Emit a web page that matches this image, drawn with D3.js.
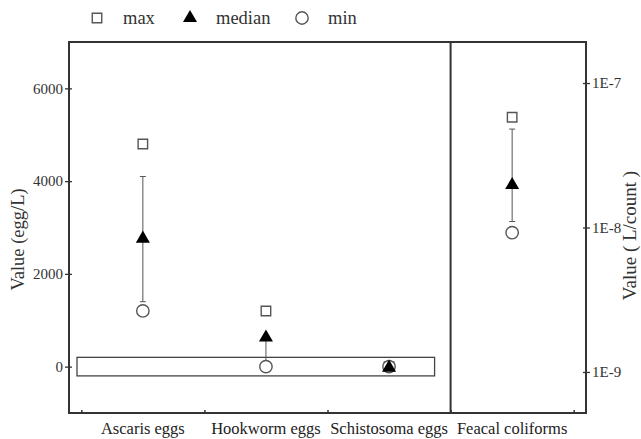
<!DOCTYPE html>
<html>
<head>
<meta charset="utf-8">
<script src="https://cdn.jsdelivr.net/npm/d3@7"></script>
<style>
  body { margin: 0; background: #fff; }
</style>
</head>
<body>
<svg id="chart" width="641" height="439"></svg>
<script>
// egg counts (left axis) and coliform values (right log axis)
const eggCategories = ["Ascaris eggs", "Hookworm eggs", "Schistosoma eggs"];
const eggMax = [4800, 1200, 0];
const eggMedian = [2780, 650, 0];
const eggMin = [1200, 0, 0];
const eggBarLow = [1400, 20, 0];
const eggBarHigh = [4100, 620, 0];

const coliCategory = "Feacal coliforms";
const coliMax = 5.8e-8;
const coliMedian = 2.0e-8;
const coliMin = 9.2e-9;
const coliBarLow = 1.1e-8;
const coliBarHigh = 4.8e-8;

const leftTicks = [0, 2000, 4000, 6000];
const rightTicks = [1e-9, 1e-8, 1e-7];
const legendLabels = ["max", "median", "min"];

const FONT = "'Liberation Serif'";
const svg = d3.select("#chart");
const margin = { top: 42, right: 55, bottom: 26, left: 69 };
const width = 641, height = 439;
const x0 = margin.left, x1 = width - margin.right;
const yTop = margin.top, yBot = height - margin.bottom;

const allCats = eggCategories.concat([coliCategory]);
const x = d3.scaleLinear().domain([0.4, 4.6]).range([x0, x1]);
const yL = d3.scaleLinear().domain([-1000, 7000]).range([yBot, yTop]);
const yR = d3.scaleLog().domain([Math.pow(10, -9.284), Math.pow(10, -6.716)]).range([yBot, yTop]);

const frameColor = "#333";
const markColor = "#555";

// highlight rectangle around zero
svg.append("rect")
  .attr("x", x(0.465)).attr("y", yL(200))
  .attr("width", x(3.37) - x(0.465)).attr("height", yL(-200) - yL(200))
  .attr("fill", "none").attr("stroke", "#444").attr("stroke-width", 1.3);

// frame
svg.append("rect")
  .attr("x", x0).attr("y", yTop).attr("width", x1 - x0).attr("height", yBot - yTop)
  .attr("fill", "none").attr("stroke", frameColor).attr("stroke-width", 2);
svg.append("line")
  .attr("x1", x(3.5)).attr("x2", x(3.5)).attr("y1", yTop).attr("y2", yBot)
  .attr("stroke", frameColor).attr("stroke-width", 2);

// left axis
const gL = svg.append("g").attr("transform", `translate(${x0},0)`)
  .call(d3.axisLeft(yL).tickValues(leftTicks).tickSize(4).tickPadding(2).tickFormat(d3.format("d")));
gL.attr("font-family", FONT);
gL.select(".domain").remove();
gL.selectAll(".tick line").attr("x2", 3).attr("x1", -4).attr("stroke", frameColor).attr("stroke-width", 1.3);
gL.selectAll(".tick text").attr("font-size", 15).attr("fill", "#333");

// right axis
const gR = svg.append("g").attr("transform", `translate(${x1},0)`)
  .call(d3.axisRight(yR).tickValues(rightTicks).tickSize(4).tickPadding(2)
    .tickFormat(d => "1E" + Math.round(Math.log10(d))));
gR.attr("font-family", FONT);
gR.select(".domain").remove();
gR.selectAll(".tick line").attr("x1", -3).attr("x2", 4).attr("stroke", frameColor).attr("stroke-width", 1.3);
gR.selectAll(".tick text").attr("font-size", 15).attr("fill", "#333");

// bottom ticks (at category boundaries)
const gB = svg.append("g").attr("transform", `translate(0,${yBot})`)
  .call(d3.axisBottom(x).tickValues([0.5, 1.5, 2.5, 3.5, 4.5]).tickSize(-3).tickFormat(""));
gB.select(".domain").remove();
gB.selectAll(".tick line").attr("stroke", frameColor).attr("stroke-width", 1.5);

// category labels
svg.append("g").attr("font-family", FONT).selectAll("text")
  .data(allCats).join("text")
  .attr("x", (d, i) => x(i + 1)).attr("y", yBot + 21)
  .attr("text-anchor", "middle").attr("font-size", 16.5).attr("fill", "#222")
  .text(d => d);

// axis titles
svg.append("text")
  .attr("transform", `translate(24,${(yTop + yBot) / 2 + 12}) rotate(-90)`)
  .attr("text-anchor", "middle").attr("font-size", 18.5).attr("fill", "#333")
  .attr("font-family", FONT)
  .text("Value (egg/L)");
svg.append("text")
  .attr("transform", `translate(636,${(yTop + yBot) / 2 + 8}) rotate(-90)`)
  .attr("text-anchor", "middle").attr("font-size", 19).attr("fill", "#333")
  .attr("font-family", FONT)
  .text("Value ( L/count )");

// markers
const sq = d3.symbol().type(d3.symbolSquare).size(90);
const tri = d3.symbol().type(d3.symbolTriangle).size(85);
const circ = d3.symbol().type(d3.symbolCircle).size(120);

function drawGroup(cx, yMax, yMed, yMin, yLo, yHi) {
  const g = svg.append("g");
  if (Math.abs(yHi - yLo) > 2) {
    g.append("line").attr("x1", cx).attr("x2", cx).attr("y1", yLo).attr("y2", yHi)
      .attr("stroke", markColor).attr("stroke-width", 1);
    [yLo, yHi].forEach(v => g.append("line").attr("x1", cx - 3).attr("x2", cx + 3)
      .attr("y1", v).attr("y2", v).attr("stroke", markColor).attr("stroke-width", 1));
  }
  g.append("path").attr("d", sq).attr("transform", `translate(${cx},${yMax})`)
    .attr("fill", "none").attr("stroke", markColor).attr("stroke-width", 1.4);
  g.append("path").attr("d", circ).attr("transform", `translate(${cx},${yMin})`)
    .attr("fill", "#fff").attr("stroke", markColor).attr("stroke-width", 1.4);
  g.append("path").attr("d", tri).attr("transform", `translate(${cx},${yMed + 1})`)
    .attr("fill", "#000");
}

eggCategories.forEach((c, i) => {
  drawGroup(x(i + 1), yL(eggMax[i]), yL(eggMedian[i]), yL(eggMin[i]), yL(eggBarLow[i]), yL(eggBarHigh[i]));
});
drawGroup(x(4), yR(coliMax), yR(coliMedian), yR(coliMin), yR(coliBarLow), yR(coliBarHigh));

// legend
const legend = svg.append("g").attr("transform", "translate(0,18)");
const legX = [97, 190, 302];
const legSym = [sq, tri, circ];
legendLabels.forEach((lab, i) => {
  const p = legend.append("path").attr("d", legSym[i]).attr("transform", `translate(${legX[i]},0)`);
  if (i === 1) p.attr("fill", "#000");
  else p.attr("fill", "none").attr("stroke", markColor).attr("stroke-width", 1.4);
  legend.append("text").attr("x", legX[i] + 26).attr("y", 6)
    .attr("font-size", 18.5).attr("fill", "#333").attr("font-family", FONT).text(lab);
});
</script>
</body>
</html>
